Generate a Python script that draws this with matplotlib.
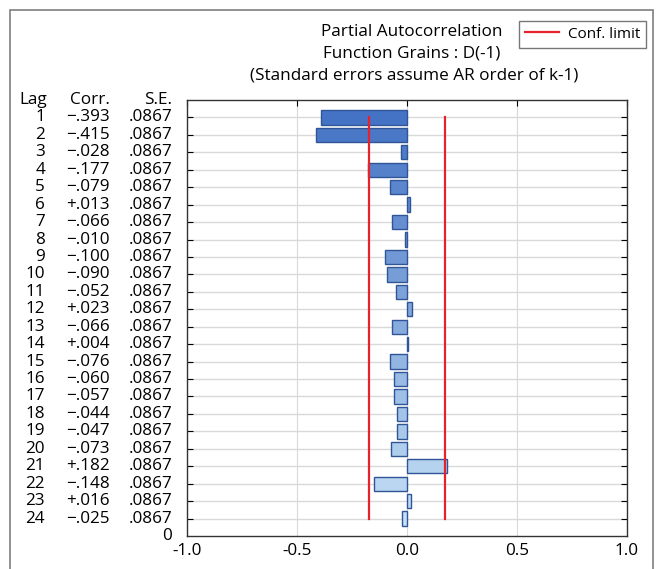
import numpy as np
import matplotlib.pyplot as plt
from matplotlib.lines import Line2D
from matplotlib.patches import Rectangle
import matplotlib.transforms as mtransforms

plt.rcParams['font.family'] = ['Open Sans', 'DejaVu Sans']

# Data
lags = list(range(1, 25))
corr = [-0.393, -0.415, -0.028, -0.177, -0.079, 0.013, -0.066, -0.010,
        -0.100, -0.090, -0.052, 0.023, -0.066, 0.004, -0.076, -0.060,
        -0.057, -0.044, -0.047, -0.073, 0.182, -0.148, 0.016, -0.025]
se = [0.0867] * 24
conf_mult = 2.0

fig = plt.figure(figsize=(6.61, 5.69), dpi=100)
ax = fig.add_axes([187 / 661, 1 - 536 / 569, 440 / 661, 436 / 569])

# outer frame
fig.patches.append(Rectangle((10 / 661, -0.01), 643 / 661, 1 - 10 / 569 + 0.01,
                             transform=fig.transFigure, fill=False,
                             edgecolor='#7f7f7f', linewidth=1.2))

pos = [25 - l for l in lags]
c0 = np.array([0x44, 0x72, 0xC4]) / 255
c1 = np.array([0xC6, 0xE0, 0xF5]) / 255
colors = [c0 + (c1 - c0) * i / 23 for i in range(24)]

ax.barh(pos, corr, height=0.82, color=colors, edgecolor='#2F5597',
        linewidth=1.0, zorder=3)

lim = conf_mult * se[0]
ax.plot([-lim, -lim], [pos[0], pos[-1]], color='#E8222B', lw=1.6, zorder=4)
ax.plot([lim, lim], [pos[0], pos[-1]], color='#E8222B', lw=1.6, zorder=4)

fs = 12.3
ax.set_xlim(-1, 1)
ax.set_ylim(0, 25)
ax.set_xticks([-1.0, -0.5, 0.0, 0.5, 1.0])
ax.set_xticklabels(['-1.0', '-0.5', '0.0', '0.5', '1.0'], fontsize=fs)
ax.set_yticks(pos)
ax.set_yticklabels([])
ax.tick_params(axis='y', direction='in', left=True, right=True, length=4)
ax.tick_params(axis='x', direction='in', top=True, bottom=False, length=4, pad=5)
ax.grid(axis='y', color='#D9D9D9', lw=1.0, zorder=0)
ax.grid(axis='x', color='#D9D9D9', lw=0.8, zorder=0)
for s in ax.spines.values():
    s.set_color('#333333')
    s.set_linewidth(1.0)

# table on the left
tr = mtransforms.blended_transform_factory(fig.transFigure, ax.transData)
ax.text(47 / 661, 25.0, 'Lag', transform=tr, ha='right', va='center', fontsize=fs)
ax.text(110 / 661, 25.0, 'Corr.', transform=tr, ha='right', va='center', fontsize=fs)
ax.text(172 / 661, 25.0, 'S.E.', transform=tr, ha='right', va='center', fontsize=fs)
for l, p, c, e in zip(lags, pos, corr, se):
    cs = ('+' if c >= 0 else '\u2212') + ('%.3f' % abs(c))[1:]
    ax.text(45 / 661, p, str(l), transform=tr, ha='right', va='center', fontsize=fs)
    ax.text(110 / 661, p, cs, transform=tr, ha='right', va='center', fontsize=fs)
    ax.text(172 / 661, p, ('%.4f' % e)[1:], transform=tr, ha='right', va='center', fontsize=fs)
ax.text(172 / 661, 0, '0', transform=tr, ha='right', va='center', fontsize=fs)

# titles
fig.text(412 / 661, 1 - 32 / 569, 'Partial Autocorrelation', ha='center', va='center', fontsize=fs)
fig.text(412 / 661, 1 - 54 / 569, 'Function Grains : D(-1)', ha='center', va='center', fontsize=fs)
fig.text(414 / 661, 1 - 75 / 569, '(Standard errors assume AR order of k-1)',
         ha='center', va='center', fontsize=fs)

handle = Line2D([], [], color='#E8222B', lw=1.6)
leg = fig.legend([handle], ['Conf. limit'], loc='upper right',
                 bbox_to_anchor=(654 / 661, 1 - 13 / 569), fontsize=11,
                 frameon=True, fancybox=False, handlelength=2.2,
                 borderpad=0.4, handletextpad=0.6)
leg.get_frame().set_edgecolor('#555555')
leg.get_frame().set_linewidth(1.0)

plt.savefig('out.png', dpi=100)
plt.close()
